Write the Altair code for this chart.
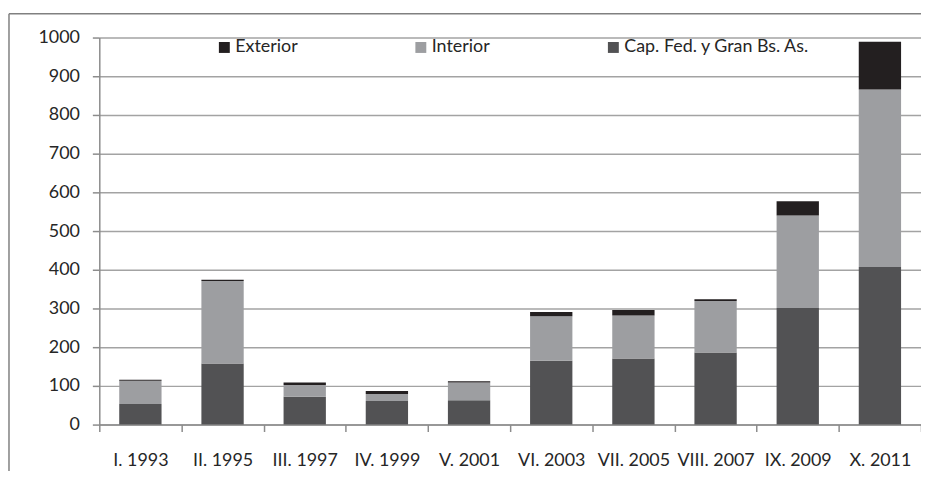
import altair as alt
import pandas as pd

categories = ["I. 1993", "II. 1995", "III. 1997", "IV. 1999", "V. 2001",
              "VI. 2003", "VII. 2005", "VIII. 2007", "IX. 2009", "X. 2011"]
cap = [53, 158, 72, 61, 63, 165, 171, 186, 301, 407]
interior = [60, 213, 30, 18, 46, 115, 111, 133, 239, 459]
exterior = [3, 3, 7, 8, 3, 11, 14, 5, 37, 123]
series = ["Exterior", "Interior", "Cap. Fed. y Gran Bs. As."]
colors = ["#231f20", "#9d9ea1", "#525254"]
y_ticks = list(range(0, 1001, 100))

rows = []
for i, c in enumerate(categories):
    rows.append({"periodo": c, "serie": series[2], "valor": cap[i], "orden": 0})
    rows.append({"periodo": c, "serie": series[1], "valor": interior[i], "orden": 1})
    rows.append({"periodo": c, "serie": series[0], "valor": exterior[i], "orden": 2})
df = pd.DataFrame(rows)

FONT = "Lato"
TXT = "#262626"
GRID = "#a3a3a3"

bars = alt.Chart(df).mark_bar(width=alt.RelativeBandSize(0.515)).encode(
    x=alt.X("periodo:N", sort=categories,
            scale=alt.Scale(paddingInner=0, paddingOuter=0),
            axis=alt.Axis(title=None, labelAngle=0, tickBand="extent",
                          domainColor="#8c8c8c", domainWidth=1.5,
                          tickColor="#8c8c8c", tickWidth=1.5, tickSize=7,
                          labelFont=FONT, labelFontSize=18, labelColor=TXT,
                          labelPadding=20, grid=False)),
    y=alt.Y("valor:Q", stack="zero",
            scale=alt.Scale(domain=[0, 1000], nice=False),
            axis=alt.Axis(title=None, values=y_ticks, grid=True, format="d",
                          gridColor=GRID, gridWidth=1.5,
                          domainColor="#8c8c8c", domainWidth=1.5,
                          tickColor="#8c8c8c", tickWidth=1.5, tickSize=7,
                          labelFont=FONT, labelFontSize=18, labelColor=TXT,
                          labelPadding=13)),
    color=alt.Color("serie:N",
                    scale=alt.Scale(domain=series, range=colors),
                    legend=alt.Legend(title=None, orient="none",
                                      legendX=117, legendY=1,
                                      direction="horizontal",
                                      symbolType="square", symbolSize=121,
                                      symbolStrokeWidth=0, labelOffset=2,
                                      labelFont=FONT, labelFontSize=18,
                                      labelColor=TXT, columnPadding=115,
                                      labelLimit=0, padding=0)),
    order=alt.Order("orden:Q", sort="ascending"),
)

frame = alt.Data(values=[{}])
top_border = alt.Chart(frame).mark_rule(color="#808080", strokeWidth=1.5).encode(
    x=alt.value(-91), x2=alt.value(828), y=alt.value(-24))
left_border = alt.Chart(frame).mark_rule(color="#808080", strokeWidth=1.5).encode(
    x=alt.value(-91), y=alt.value(-24), y2=alt.value(460))

chart = alt.layer(bars, top_border, left_border).properties(
    width=828, height=390,
    autosize=alt.AutoSizeParams(type="none"),
    padding={"left": 92, "top": 28, "right": 0, "bottom": 45},
).configure_view(stroke=None)

chart.save("out.html", embed_options={"renderer": "svg", "actions": False})
